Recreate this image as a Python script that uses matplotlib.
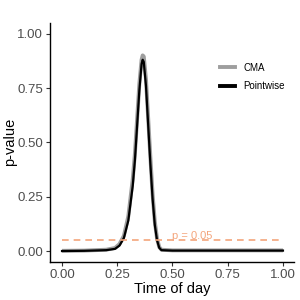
import matplotlib
matplotlib.use("Agg")
import matplotlib.pyplot as plt
from matplotlib.lines import Line2D

plt.rcParams["font.family"] = ["Liberation Sans", "DejaVu Sans"]

# time of day (fraction) and p-values
time_pt = [0.00, 0.10, 0.20, 0.24, 0.26, 0.28, 0.30, 0.32, 0.33, 0.34, 0.35,
           0.36, 0.365, 0.37, 0.38, 0.39, 0.40, 0.41, 0.42, 0.43, 0.44, 0.45,
           0.50, 0.75, 1.00]
p_pointwise = [0.000, 0.001, 0.004, 0.010, 0.025, 0.060, 0.140, 0.300, 0.420,
               0.580, 0.740, 0.860, 0.880, 0.870, 0.760, 0.580, 0.400, 0.240,
               0.120, 0.050, 0.015, 0.004, 0.002, 0.002, 0.002]
p_cma = [0.001, 0.002, 0.006, 0.014, 0.032, 0.070, 0.160, 0.330, 0.450,
         0.610, 0.770, 0.880, 0.900, 0.895, 0.790, 0.610, 0.430, 0.260,
         0.135, 0.058, 0.018, 0.006, 0.003, 0.003, 0.003]
alpha_level = 0.05
ticks = [0.0, 0.25, 0.5, 0.75, 1.0]

fig = plt.figure(figsize=(3, 3), dpi=100)
ax = fig.add_axes([0.167, 0.127, 0.813, 0.797])

ax.plot(time_pt, p_cma, color="#9E9E9E", lw=2.8, solid_capstyle="butt")
ax.plot(time_pt, p_pointwise, color="black", lw=1.6)
ax.axhline(alpha_level, color="#F4A57C", lw=1.2, ls=(0, (4, 3)),
           xmin=0.049, xmax=0.951)
ax.text(0.5, alpha_level - 0.005, "p = 0.05", color="#F4A57C", fontsize=8,
        ha="left", va="bottom")

ax.set_xlim(-0.054, 1.05)
ax.set_ylim(-0.05, 1.05)
ax.set_xticks(ticks)
ax.set_yticks(ticks)
ax.set_xticklabels(["%.2f" % t for t in ticks])
ax.set_yticklabels(["%.2f" % t for t in ticks])
ax.tick_params(colors="#333333", labelcolor="#4D4D4D", labelsize=9.5,
               length=3, width=0.8, pad=2)
for s in ["top", "right"]:
    ax.spines[s].set_visible(False)
for s in ["left", "bottom"]:
    ax.spines[s].set_linewidth(1.0)
ax.set_xlabel("Time of day", fontsize=10.5, labelpad=1)
ax.set_ylabel("p-value", fontsize=10.5, va="center")
ax.yaxis.set_label_coords(-0.163, 0.5)

handles = [Line2D([], [], color="#9E9E9E", lw=2.8),
           Line2D([], [], color="black", lw=2.8)]
ax.legend(handles, ["CMA", "Pointwise"], loc="upper left",
          bbox_to_anchor=(0.66, 0.87), frameon=False, fontsize=7,
          handlelength=1.6, handletextpad=0.8, labelspacing=0.9)

fig.savefig("out.png", dpi=100)
